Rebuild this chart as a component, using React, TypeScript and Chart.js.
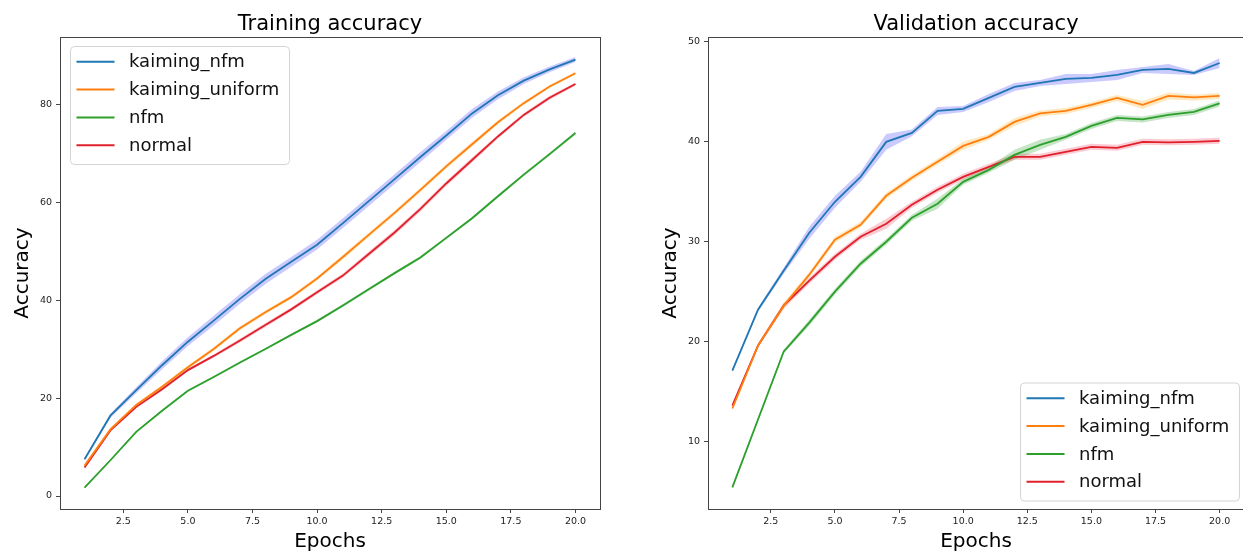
import React, { useEffect, useRef } from 'react';
import { Chart, registerables } from 'chart.js';

Chart.register(...registerables);

// ---------------- data ----------------
const epochs = [1, 2, 3, 4, 5, 6, 7, 8, 9, 10, 11, 12, 13, 14, 15, 16, 17, 18, 19, 20];
const seriesNames = ['kaiming_nfm', 'kaiming_uniform', 'nfm', 'normal'];

// Training accuracy (means)
const trainKaimingNfm = [7.5, 16.4, 21.6, 26.7, 31.5, 35.8, 40.2, 44.3, 47.8, 51.3, 55.7, 60.2, 64.7, 69.2, 73.6, 78.1, 81.8, 84.8, 87.1, 89.1];
const trainKaimingUniform = [6.2, 13.6, 18.6, 22.3, 26.3, 30.0, 34.2, 37.5, 40.6, 44.4, 48.8, 53.3, 57.8, 62.5, 67.3, 71.8, 76.3, 80.2, 83.6, 86.3];
const trainNfm = [1.7, 7.3, 13.1, 17.4, 21.5, 24.3, 27.2, 30.0, 32.9, 35.7, 38.9, 42.2, 45.5, 48.7, 52.7, 56.7, 61.2, 65.6, 69.8, 74.1];
const trainNormal = [5.8, 13.4, 18.2, 21.8, 25.7, 28.6, 31.7, 34.9, 38.1, 41.6, 45.0, 49.4, 53.8, 58.6, 63.8, 68.6, 73.4, 77.8, 81.3, 84.1];

// Training accuracy (confidence half-widths)
const trainCiKaimingNfm = [0.3, 0.4, 0.6, 0.8, 0.9, 1.0, 1.0, 1.0, 1.0, 1.0, 1.0, 1.0, 1.0, 1.0, 0.9, 0.9, 0.8, 0.7, 0.6, 0.5];
const trainCiKaimingUniform = [0.3, 0.3, 0.3, 0.3, 0.4, 0.4, 0.4, 0.4, 0.4, 0.4, 0.5, 0.5, 0.5, 0.5, 0.5, 0.5, 0.4, 0.4, 0.3, 0.3];
const trainCiNfm = [0.2, 0.2, 0.2, 0.2, 0.2, 0.2, 0.2, 0.2, 0.2, 0.3, 0.3, 0.3, 0.3, 0.3, 0.3, 0.3, 0.3, 0.3, 0.3, 0.3];
const trainCiNormal = [0.3, 0.3, 0.3, 0.3, 0.3, 0.3, 0.4, 0.4, 0.4, 0.4, 0.4, 0.5, 0.5, 0.5, 0.5, 0.5, 0.4, 0.4, 0.4, 0.3];

// Validation accuracy (means)
const valKaimingNfm = [17.1, 23.2, 27.1, 30.9, 34.0, 36.5, 40.0, 40.9, 43.1, 43.3, 44.4, 45.5, 45.9, 46.3, 46.4, 46.7, 47.2, 47.3, 46.9, 47.9];
const valKaimingUniform = [13.3, 19.6, 23.6, 26.7, 30.2, 31.7, 34.6, 36.4, 38.0, 39.6, 40.5, 42.0, 42.85, 43.1, 43.7, 44.4, 43.7, 44.6, 44.45, 44.6];
const valNfm = [5.4, 12.2, 19.0, 21.9, 25.0, 27.8, 30.0, 32.4, 33.8, 36.0, 37.2, 38.7, 39.7, 40.5, 41.6, 42.4, 42.25, 42.7, 43.0, 43.85];
const valNormal = [13.6, 19.6, 23.6, 26.1, 28.5, 30.5, 31.8, 33.7, 35.2, 36.5, 37.5, 38.5, 38.5, 39.0, 39.5, 39.4, 40.0, 39.95, 40.0, 40.1];

// Validation accuracy (confidence half-widths)
const valCiKaimingNfm = [0.15, 0.2, 0.3, 0.6, 0.6, 0.5, 0.8, 0.35, 0.4, 0.3, 0.4, 0.4, 0.3, 0.5, 0.4, 0.5, 0.3, 0.5, 0.2, 0.5];
const valCiKaimingUniform = [0.2, 0.2, 0.3, 0.3, 0.3, 0.3, 0.3, 0.3, 0.3, 0.4, 0.3, 0.4, 0.3, 0.3, 0.3, 0.3, 0.4, 0.35, 0.3, 0.3];
const valCiNfm = [0.15, 0.2, 0.2, 0.3, 0.3, 0.3, 0.3, 0.3, 0.5, 0.3, 0.3, 0.5, 0.5, 0.3, 0.3, 0.3, 0.3, 0.3, 0.3, 0.3];
const valCiNormal = [0.2, 0.2, 0.3, 0.3, 0.3, 0.3, 0.5, 0.3, 0.3, 0.3, 0.3, 0.3, 0.3, 0.3, 0.3, 0.3, 0.3, 0.3, 0.3, 0.3];

// Ticks
const xTicks = [2.5, 5, 7.5, 10, 12.5, 15, 17.5, 20];
const trainYTicks = [0, 20, 40, 60, 80];
const valYTicks = [10, 20, 30, 40, 50];

// ---------------- styles ----------------
const FONT = "'DejaVu Sans', sans-serif";
const COLORS = ['#1f77b4', '#ff7f0e', '#2ca02c', '#e0202a'];
const BANDS = ['rgba(90,90,255,0.32)', 'rgba(255,185,60,0.32)', 'rgba(44,160,44,0.27)', 'rgba(240,60,90,0.27)'];

function buildDatasets(means: number[][], cis: number[][]) {
  const ds: any[] = [];
  means.forEach((m, i) => {
    ds.push({
      label: seriesNames[i],
      data: epochs.map((e, k) => ({ x: e, y: m[k] })),
      borderColor: COLORS[i],
      borderWidth: 1.8,
      pointRadius: 0,
      fill: false,
      tension: 0,
      order: 0,
    });
  });
  means.forEach((m, i) => {
    ds.push({
      label: seriesNames[i] + '_upper',
      data: epochs.map((e, k) => ({ x: e, y: m[k] + cis[i][k] })),
      borderColor: 'transparent',
      borderWidth: 0,
      pointRadius: 0,
      backgroundColor: BANDS[i],
      fill: '+1',
      tension: 0,
      order: 1,
    });
    ds.push({
      label: seriesNames[i] + '_lower',
      data: epochs.map((e, k) => ({ x: e, y: m[k] - cis[i][k] })),
      borderColor: 'transparent',
      borderWidth: 0,
      pointRadius: 0,
      fill: false,
      tension: 0,
      order: 1,
    });
  });
  return ds;
}

function roundedRect(ctx: CanvasRenderingContext2D, x: number, y: number, w: number, h: number, r: number) {
  ctx.beginPath();
  ctx.moveTo(x + r, y);
  ctx.lineTo(x + w - r, y);
  ctx.arcTo(x + w, y, x + w, y + r, r);
  ctx.lineTo(x + w, y + h - r);
  ctx.arcTo(x + w, y + h, x + w - r, y + h, r);
  ctx.lineTo(x + r, y + h);
  ctx.arcTo(x, y + h, x, y + h - r, r);
  ctx.lineTo(x, y + r);
  ctx.arcTo(x, y, x + r, y, r);
  ctx.closePath();
}

function frameLegendPlugin(corner: 'tl' | 'br') {
  return {
    id: 'frameLegend',
    afterDatasetsDraw(chart: any) {
      const { ctx, chartArea: a } = chart;
      ctx.save();
      // frame (all four spines)
      ctx.strokeStyle = '#444';
      ctx.lineWidth = 1;
      ctx.strokeRect(Math.round(a.left) + 0.5, Math.round(a.top) + 0.5, Math.round(a.right - a.left), Math.round(a.bottom - a.top));
      // legend
      const w = 219;
      const h = 118;
      const bx = corner === 'tl' ? a.left + 10 : a.right - 224;
      const by = corner === 'tl' ? a.top + 9 : a.bottom - 8.5 - h;
      roundedRect(ctx, bx + 0.5, by + 0.5, w, h, 4);
      ctx.fillStyle = 'rgba(255,255,255,0.85)';
      ctx.fill();
      ctx.strokeStyle = '#d4d4d4';
      ctx.lineWidth = 1;
      ctx.stroke();
      ctx.font = `18px ${FONT}`;
      ctx.textBaseline = 'middle';
      ctx.textAlign = 'left';
      seriesNames.forEach((name, i) => {
        const y = by + 15.8 + i * 27.8;
        ctx.strokeStyle = COLORS[i];
        ctx.lineWidth = 2;
        ctx.beginPath();
        ctx.moveTo(bx + 6.5, y);
        ctx.lineTo(bx + 44.5, y);
        ctx.stroke();
        ctx.fillStyle = '#111';
        ctx.fillText(name, bx + 59, y + 1);
      });
      ctx.restore();
    },
  };
}

type Params = {
  title: string;
  means: number[][];
  cis: number[][];
  yMin: number;
  yMax: number;
  yTicks: number[];
  yAxisWidth: number;
  yTitlePad: number;
  padRight: number;
  corner: 'tl' | 'br';
};

function makeConfig(p: Params): any {
  const tickFont = { family: FONT, size: 9.5 };
  const grid = { display: true, drawOnChartArea: false, drawTicks: true, tickLength: 4, color: '#444', lineWidth: 1 };
  return {
    type: 'line',
    data: { datasets: buildDatasets(p.means, p.cis) },
    options: {
      animation: false,
      responsive: false,
      devicePixelRatio: 1,
      events: [],
      layout: { padding: { left: 0, right: p.padRight, top: 0, bottom: 0 } },
      plugins: {
        legend: { display: false },
        tooltip: { enabled: false },
        title: {
          display: true,
          text: p.title,
          fullSize: false,
          color: '#000',
          font: { family: FONT, size: 21, weight: 'normal', lineHeight: 1 },
          padding: { top: 14, bottom: 2 },
        },
      },
      scales: {
        x: {
          type: 'linear',
          min: 0.05,
          max: 20.95,
          afterBuildTicks: (s: any) => {
            s.ticks = xTicks.map((v) => ({ value: v }));
          },
          afterFit: (s: any) => {
            s.height = 43;
          },
          ticks: {
            callback: (v: any) => Number(v).toFixed(1),
            font: tickFont,
            color: '#222',
            padding: 3,
            maxRotation: 0,
            autoSkip: false,
          },
          grid,
          border: { display: false },
          title: {
            display: true,
            text: 'Epochs',
            color: '#000',
            font: { family: FONT, size: 20, lineHeight: 1 },
            padding: { top: 0, bottom: 0.5 },
          },
        },
        y: {
          type: 'linear',
          min: p.yMin,
          max: p.yMax,
          afterBuildTicks: (s: any) => {
            s.ticks = p.yTicks.map((v) => ({ value: v }));
          },
          afterFit: (s: any) => {
            s.width = p.yAxisWidth;
          },
          ticks: {
            callback: (v: any) => String(v),
            font: tickFont,
            color: '#222',
            padding: 4,
            autoSkip: false,
          },
          grid,
          border: { display: false },
          title: {
            display: true,
            text: 'Accuracy',
            color: '#000',
            font: { family: FONT, size: 20, lineHeight: 1 },
            padding: { top: p.yTitlePad, bottom: 0 },
          },
        },
      },
    },
    plugins: [frameLegendPlugin(p.corner)],
  };
}

export default function App() {
  const leftRef = useRef<HTMLCanvasElement | null>(null);
  const rightRef = useRef<HTMLCanvasElement | null>(null);

  useEffect(() => {
    if (!leftRef.current || !rightRef.current) return;
    const left = new Chart(
      leftRef.current,
      makeConfig({
        title: 'Training accuracy',
        means: [trainKaimingNfm, trainKaimingUniform, trainNfm, trainNormal],
        cis: [trainCiKaimingNfm, trainCiKaimingUniform, trainCiNfm, trainCiNormal],
        yMin: -2.65,
        yMax: 93.7,
        yTicks: trainYTicks,
        yAxisWidth: 60,
        yTitlePad: 12.5,
        padRight: 10,
        corner: 'tl',
      })
    );
    const right = new Chart(
      rightRef.current,
      makeConfig({
        title: 'Validation accuracy',
        means: [valKaimingNfm, valKaimingUniform, valNfm, valNormal],
        cis: [valCiKaimingNfm, valCiKaimingUniform, valCiNfm, valCiNormal],
        yMin: 3.24,
        yMax: 50.5,
        yTicks: valYTicks,
        yAxisWidth: 88,
        yTitlePad: 41,
        padRight: 2,
        corner: 'br',
      })
    );
    return () => {
      left.destroy();
      right.destroy();
    };
  }, []);

  return (
    <div style={{ position: 'absolute', left: 0, top: 0, width: 1243, height: 552, overflow: 'hidden', background: '#fff' }}>
      <canvas ref={leftRef} width={610} height={552} style={{ position: 'absolute', left: 0, top: 0, width: 610, height: 552 }} />
      <canvas ref={rightRef} width={626} height={552} style={{ position: 'absolute', left: 620, top: 0, width: 626, height: 552 }} />
    </div>
  );
}
